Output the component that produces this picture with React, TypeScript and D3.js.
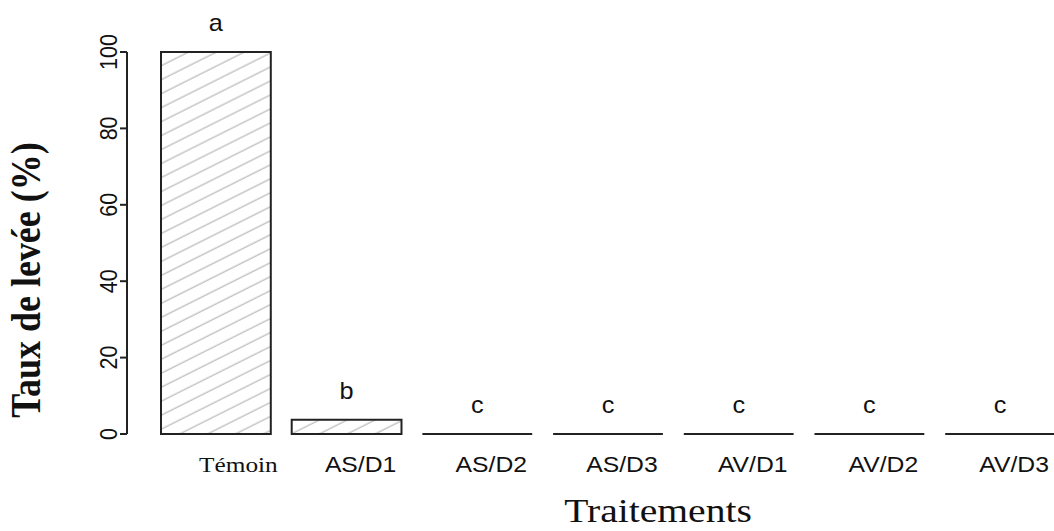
import React from "react";
import * as d3 from "d3";

const categories = ["Témoin", "AS/D1", "AS/D2", "AS/D3", "AV/D1", "AV/D2", "AV/D3"];
const values = [100, 3.7, 0, 0, 0, 0, 0];
const letters = ["a", "b", "c", "c", "c", "c", "c"];
const yTicks = [0, 20, 40, 60, 80, 100];
const yTitle = "Taux de levée (%)";
const xTitle = "Traitements";

const W = 1054;
const H = 531;
const SX = 1.15;

export default function App() {
  const x = d3.scaleBand<string>().domain(categories).range([161, 1055]).paddingInner(0.16).paddingOuter(0);
  const y = d3.scaleLinear().domain([0, 100]).range([434, 52]);
  const bw = x.bandwidth();
  const sans = "'Liberation Sans', Arial, sans-serif";
  const serif = "'Liberation Serif', 'Times New Roman', serif";
  return (
    <svg
      width={W}
      height={H}
      viewBox={`0 0 ${W} ${H}`}
      style={{ position: "absolute", left: 0, top: 0, background: "#fff", overflow: "hidden" }}
    >
      <defs>
        <pattern id="hatch" patternUnits="userSpaceOnUse" width="40" height="12.5" patternTransform="rotate(-26.6)">
          <line x1="0" y1="6" x2="40" y2="6" stroke="#c4c4c4" strokeWidth="1.4" />
        </pattern>
      </defs>
      <rect x={0} y={0} width={W} height={H} fill="#fff" />
      {categories.map((c, i) => {
        const x0 = x(c)!;
        const yt = y(values[i]);
        const h = y(0) - yt;
        const d = `M${x0},${y(0)}V${yt}H${x0 + bw}V${y(0)}Z`;
        return (
          <g key={c}>
            <path d={d} fill={h > 0 ? "url(#hatch)" : "none"} stroke="#222" strokeWidth={2} />
            <text
              transform={`translate(${x0 + bw / 2},${yt - 21}) scale(1.1,1)`}
              textAnchor="middle"
              fontFamily={sans}
              fontSize={23}
              fill="#111"
            >
              {letters[i]}
            </text>
            <text
              transform={`translate(${x0 + bw / 2 + (i === 0 ? 22.5 : 14)},472) scale(${SX},1)`}
              textAnchor="middle"
              fontFamily={i === 0 ? serif : sans}
              fontSize={i === 0 ? 22 : 21.5}
              fill="#111"
            >
              {c}
            </text>
          </g>
        );
      })}
      <line x1={127} x2={127} y1={y(0)} y2={y(100)} stroke="#222" strokeWidth={2} />
      {yTicks.map((t) => (
        <g key={t}>
          <line x1={120} x2={127} y1={y(t)} y2={y(t)} stroke="#222" strokeWidth={2} />
          <text
            transform={`translate(117,${y(t)}) scale(${SX},1) rotate(-90)`}
            textAnchor="middle"
            fontFamily={sans}
            fontSize={21.5}
            fill="#111"
          >
            {t}
          </text>
        </g>
      ))}
      <text
        transform={`translate(40,280) scale(${SX},1) rotate(-90)`}
        textAnchor="middle"
        fontFamily={serif}
        fontWeight="bold"
        fontSize={36}
        fill="#111"
      >
        {yTitle}
      </text>
      <text
        transform={`translate(658,522) scale(1.2,1)`}
        textAnchor="middle"
        fontFamily={serif}
        fontSize={33}
        fill="#111"
      >
        {xTitle}
      </text>
    </svg>
  );
}
